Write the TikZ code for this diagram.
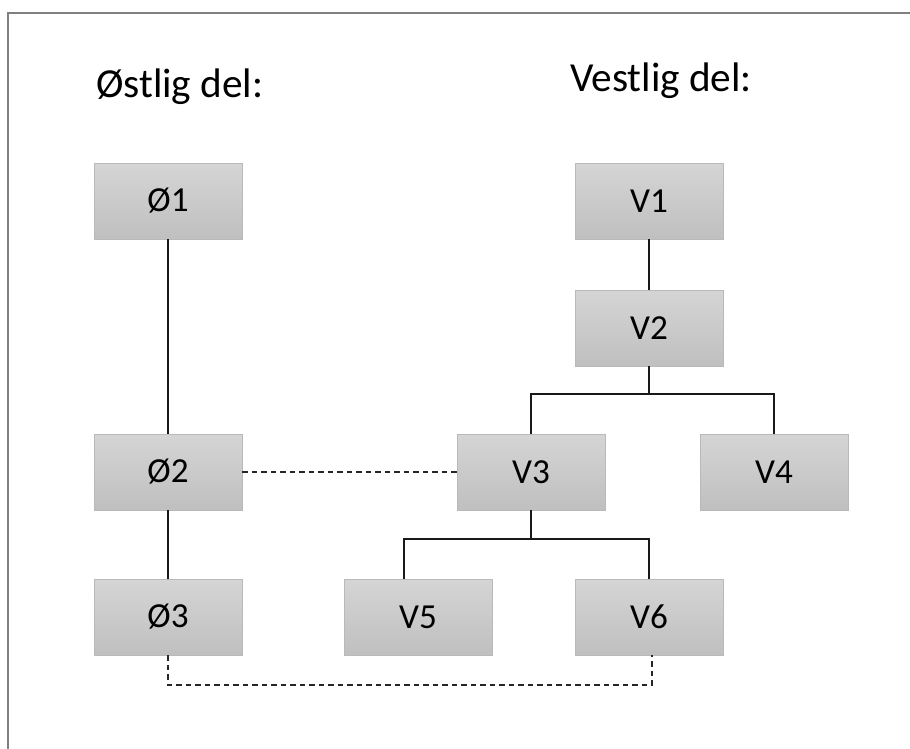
\documentclass[tikz,border=0pt]{standalone}
\usepackage{fontspec}
\setmainfont{Carlito}
\begin{document}
\begin{tikzpicture}[
  x=0.02cm,y=-0.02cm,
  every path/.style={line width=1.3pt},
  part/.style={rectangle,draw=gray!55,line width=.5pt,top color=gray!33,bottom color=gray!50,
    minimum width=2.96cm,minimum height=1.52cm,inner sep=0pt,
    font=\fontsize{20}{24}\selectfont},
  heading/.style={anchor=base west,inner sep=0pt,font=\fontsize{23.5}{28}\selectfont},
  link/.style={black!90},
  tie/.style={black!85,dash pattern=on 0.11cm off 0.08cm}]
  \useasboundingbox (0,0) rectangle (910,749);
  % frame: only top and left edges show
  \draw[gray,line width=1.5pt] (8,749)--(8,13)--(910,13);

  \node[heading] (east) at (95,98) {Østlig del:};
  \node[heading] (west) at (569,92) {Vestlig del:};

  % eastern part
  \foreach \n/\y in {1/201,2/472,3/617}
    \node[part] (O\n) at (168,\y) {Ø\n};
  \draw[link] (O1) -- (O2);
  \draw[link] (O2) -- (O3);

  % western part
  \node[part] (V1) at (649,201) {V1};
  \node[part] (V2) at (649,328) {V2};
  \node[part] (V3) at (531,472) {V3};
  \node[part] (V4) at (774,472) {V4};
  \node[part] (V5) at (418,617) {V5};
  \node[part] (V6) at (649,617) {V6};
  \draw[link] (V1) -- (V2);
  \coordinate (fork2) at (649,394);
  \coordinate (fork3) at (531,539);
  \draw[link] (V2.south) -- (fork2) -| (V3.north);
  \draw[link] (fork2) -| (V4.north);
  \draw[link] (V3.south) -- (fork3) -| ([xshift=-0.28cm]V5.north);
  \draw[link] (fork3) -| (V6.north);

  % ties between the parts
  \draw[tie] (O2.east) -- (V3.west);
  \coordinate (loop) at (168,685);
  \draw[tie] (O3.south) -- (loop) -| ([xshift=0.06cm]V6.south);
\end{tikzpicture}
\end{document}
